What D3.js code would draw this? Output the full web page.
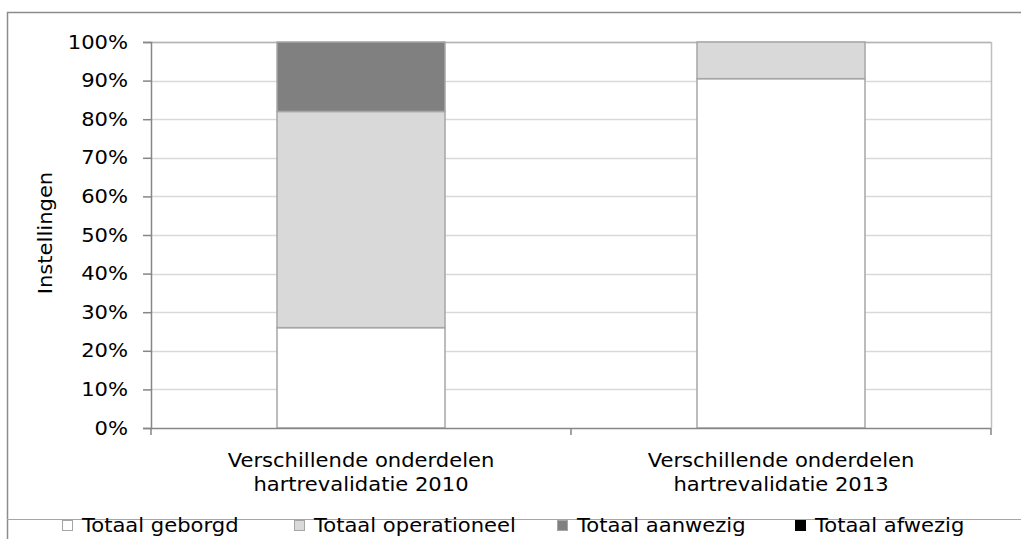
<!DOCTYPE html>
<html>
<head>
<meta charset="utf-8">
<script src="https://cdn.jsdelivr.net/npm/d3@7"></script>
<style>
  body { margin: 0; background: #fff; }
  svg text { font-family: "DejaVu Sans", Verdana, sans-serif; fill: #000; }
</style>
</head>
<body>
<div id="chart"></div>
<script>
// categories (two-line labels)
const categories = [
  ["Verschillende onderdelen", "hartrevalidatie 2010"],
  ["Verschillende onderdelen", "hartrevalidatie 2013"]
];
const seriesNames = ["Totaal geborgd", "Totaal operationeel", "Totaal aanwezig", "Totaal afwezig"];
const seriesColors = ["#ffffff", "#d9d9d9", "#808080", "#000000"];
// shares in %, per category
const geborgd = [26, 90.5];
const operationeel = [56, 9.5];
const aanwezig = [18, 0];
const afwezig = [0, 0];
const yTicks = [0, 10, 20, 30, 40, 50, 60, 70, 80, 90, 100];

const width = 1021, height = 539;
const margin = {top: 42, right: 30, bottom: 111, left: 151};
const innerW = 991 - margin.left;
const innerH = 428 - margin.top;
const fontSize = "19px";
const stretch = "scale(1.11,1)"; // text in the picture is slightly wide

const rows = categories.map((c, i) => ({
  key: i,
  [seriesNames[0]]: geborgd[i],
  [seriesNames[1]]: operationeel[i],
  [seriesNames[2]]: aanwezig[i],
  [seriesNames[3]]: afwezig[i]
}));

const svg = d3.select("#chart").append("svg")
  .attr("width", width)
  .attr("height", height);

// outer chart border (cropped on right and bottom)
svg.append("path")
  .attr("d", "M7.5,540 V12.5 H1022")
  .attr("fill", "none")
  .attr("stroke", "#8c8c8c")
  .attr("stroke-width", 1.5);

// legend separator
svg.append("line")
  .attr("x1", 7).attr("x2", width)
  .attr("y1", 519.5).attr("y2", 519.5)
  .attr("stroke", "#a6a6a6");

const g = svg.append("g")
  .attr("transform", "translate(" + margin.left + "," + margin.top + ")");

const x = d3.scaleBand()
  .domain(categories.map((c, i) => i))
  .range([0, innerW])
  .paddingInner(0.6)
  .paddingOuter(0.3);

const y = d3.scaleLinear()
  .domain([0, 100])
  .range([innerH, 0]);

// gridlines
g.append("g")
  .selectAll("line")
  .data(yTicks.filter(d => d > 0))
  .enter().append("line")
  .attr("x1", 0).attr("x2", innerW)
  .attr("y1", d => Math.round(y(d)) + 0.5)
  .attr("y2", d => Math.round(y(d)) + 0.5)
  .attr("stroke", "#d9d9d9")
  .attr("stroke-width", 1.5);

// plot area right and top border
g.append("line")
  .attr("x1", innerW + 0.5).attr("x2", innerW + 0.5)
  .attr("y1", 0).attr("y2", innerH)
  .attr("stroke", "#bfbfbf")
  .attr("stroke-width", 1.5);
g.append("line")
  .attr("x1", 0).attr("x2", innerW)
  .attr("y1", 0.5).attr("y2", 0.5)
  .attr("stroke", "#b3b3b3")
  .attr("stroke-width", 1.5);

// stacked bars
const stack = d3.stack().keys(seriesNames);
const layers = stack(rows);

g.append("g")
  .selectAll("g")
  .data(layers)
  .enter().append("g")
  .attr("fill", (d, i) => seriesColors[i])
  .selectAll("rect")
  .data(d => d.filter(p => p[1] - p[0] > 0))
  .enter().append("rect")
  .attr("x", d => x(d.data.key))
  .attr("y", d => y(d[1]))
  .attr("width", x.bandwidth())
  .attr("height", d => y(d[0]) - y(d[1]))
  .attr("stroke", "#a6a6a6")
  .attr("stroke-width", 1.5);

// y axis
const yAxis = g.append("g")
  .attr("class", "y axis")
  .call(d3.axisLeft(y).tickValues(yTicks).tickSize(8).tickFormat(d => d + "%"));
yAxis.select(".domain").attr("stroke", "#868686").attr("stroke-width", 1.5);
yAxis.selectAll(".tick line").attr("stroke", "#868686").attr("stroke-width", 1.5);
yAxis.selectAll("text")
  .attr("x", null)
  .attr("transform", "translate(-23,0) " + stretch)
  .style("font-size", fontSize);

// x axis: category boundary ticks
const xAxis = g.append("g")
  .attr("class", "x axis")
  .attr("transform", "translate(0," + innerH + ")");
xAxis.append("line")
  .attr("x1", 0).attr("x2", innerW)
  .attr("y1", 0.5).attr("y2", 0.5)
  .attr("stroke", "#868686")
  .attr("stroke-width", 1.5);
const bounds = [0, innerW / 2, innerW];
xAxis.selectAll(".bound")
  .data(bounds)
  .enter().append("line")
  .attr("class", "bound")
  .attr("x1", d => d).attr("x2", d => d)
  .attr("y1", 0).attr("y2", 7)
  .attr("stroke", "#868686")
  .attr("stroke-width", 1.5);

const catLabels = xAxis.selectAll(".cat")
  .data(categories)
  .enter().append("text")
  .attr("class", "cat")
  .attr("text-anchor", "middle")
  .style("font-size", fontSize)
  .attr("transform", (d, i) => "translate(" + (x(i) + x.bandwidth() / 2) + ",0) " + stretch);
catLabels.selectAll("tspan")
  .data(d => d)
  .enter().append("tspan")
  .attr("x", 0)
  .attr("y", (d, i) => 39 + i * 24)
  .text(d => d);

// y axis title
svg.append("text")
  .attr("transform", "translate(52," + (margin.top + innerH / 2 - 2) + ") rotate(-90) " + stretch)
  .attr("text-anchor", "middle")
  .style("font-size", fontSize)
  .text("Instellingen");

// legend
const legendX = [62, 294, 557, 795];
const legend = svg.append("g")
  .selectAll("g")
  .data(seriesNames)
  .enter().append("g")
  .attr("transform", (d, i) => "translate(" + legendX[i] + ",532)");
legend.append("rect")
  .attr("x", 0.5).attr("y", -11.5)
  .attr("width", 10).attr("height", 10)
  .attr("fill", (d, i) => seriesColors[i])
  .attr("stroke", (d, i) => i === 3 ? "#000" : "#a6a6a6");
legend.append("text")
  .attr("transform", "translate(20,0) " + stretch)
  .style("font-size", fontSize)
  .text(d => d);
</script>
</body>
</html>
